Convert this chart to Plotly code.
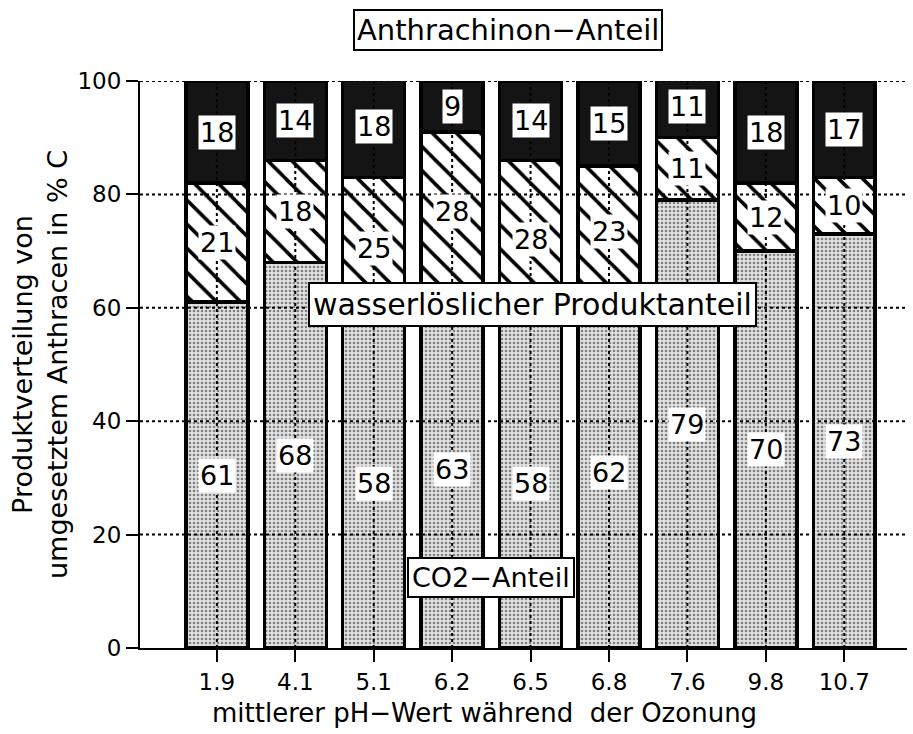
import plotly.graph_objects as go

# pH values (categories) and product shares in % C
ph_labels = ["1.9", "4.1", "5.1", "6.2", "6.5", "6.8", "7.6", "9.8", "10.7"]
co2_share = [61, 68, 58, 63, 58, 62, 79, 70, 73]
water_share = [21, 18, 25, 28, 28, 23, 11, 12, 10]
anthra_share = [18, 14, 18, 9, 14, 15, 11, 18, 17]
y_ticks = [0, 20, 40, 60, 80, 100]

FONT = "DejaVu Sans"
idx = list(range(len(ph_labels)))
BAR_W = 0.79
OUTLINE = dict(color="black", width=3.5)

fig = go.Figure()

fig.add_trace(go.Bar(
    x=idx, y=co2_share, width=BAR_W, name="CO2-Anteil",
    marker=dict(color="#dcdcdc", line=OUTLINE,
                pattern=dict(shape=".", bgcolor="#e2e2e2", fgcolor="#808080",
                             fgopacity=1, size=4, solidity=0.35)),
))
fig.add_trace(go.Bar(
    x=idx, y=water_share, width=BAR_W, name="wasserlöslicher Produktanteil",
    marker=dict(color="white", line=OUTLINE,
                pattern=dict(shape="\\", bgcolor="white", fgcolor="black",
                             fgopacity=1, size=17, solidity=0.21)),
))
fig.add_trace(go.Bar(
    x=idx, y=anthra_share, width=BAR_W, name="Anthrachinon-Anteil",
    marker=dict(color="#141414", line=OUTLINE),
))

# dotted grid drawn over the bars
for t in y_ticks[1:]:
    fig.add_shape(type="line", xref="paper", yref="y", x0=0, x1=1, y0=t, y1=t,
                  line=dict(color="black", width=2, dash="dot"), layer="above")
for i in idx:
    fig.add_shape(type="line", xref="x", yref="y", x0=i, x1=i,
                  y0=y_ticks[0], y1=y_ticks[-1],
                  line=dict(color="black", width=2, dash="dot"), layer="above")

# value labels centred in each segment
label_font = dict(family=FONT, size=27, color="black")
for i in idx:
    c, w, a = co2_share[i], water_share[i], anthra_share[i]
    for val, ymid in ((c, c / 2), (w, c + w / 2), (a, c + w + a / 2)):
        fig.add_annotation(x=i, y=ymid, xref="x", yref="y", text=str(val),
                           showarrow=False, font=label_font, bgcolor="white",
                           borderpad=1)

box_font = dict(family=FONT, size=29, color="black")
fig.add_annotation(x=4.02, y=60.6, xref="x", yref="y",
                   text="wasserlöslicher Produktanteil", showarrow=False,
                   font=dict(family=FONT, size=30, color="black"),
                   bgcolor="white", bordercolor="black",
                   borderwidth=2, borderpad=3)
fig.add_annotation(x=3.5, y=12.4, xref="x", yref="y", text="CO2−Anteil",
                   showarrow=False, font=dict(family=FONT, size=27, color="black"),
                   bgcolor="white", bordercolor="black", borderwidth=2,
                   borderpad=3)
fig.add_annotation(x=0.48, y=1.09, xref="paper", yref="paper",
                   yanchor="middle", xanchor="center",
                   text="Anthrachinon−Anteil", showarrow=False, font=box_font,
                   bgcolor="white", bordercolor="black", borderwidth=2,
                   borderpad=2)

# x-axis title, set slightly left of the plot centre
fig.add_annotation(x=0.449, y=-0.115, xref="paper", yref="paper",
                   xanchor="center", yanchor="middle",
                   text="mittlerer pH−Wert während  der Ozonung",
                   showarrow=False, font=dict(family=FONT, size=26, color="black"))

fig.update_layout(
    barmode="stack",
    width=913, height=734,
    margin=dict(l=140, r=6, t=81, b=86),
    paper_bgcolor="white", plot_bgcolor="white",
    showlegend=False,
    font=dict(family=FONT, color="black"),
    xaxis=dict(
        range=[-0.98, 8.8], tickmode="array", tickvals=idx, ticktext=ph_labels,
        showgrid=False, zeroline=False, showline=True, linecolor="black",
        linewidth=2, ticks="outside", ticklen=12, tickwidth=2,
        tickcolor="black", tickfont=dict(family=FONT, size=23),
    ),
    yaxis=dict(
        range=[0, 100], tickvals=y_ticks, showgrid=False, zeroline=False,
        showline=True, linecolor="black", linewidth=2, ticks="outside",
        ticklen=12, tickwidth=2, tickcolor="black",
        tickfont=dict(family=FONT, size=23),
        title=dict(text="Produktverteilung von<br>umgesetztem Anthracen in % C",
                   font=dict(family=FONT, size=27), standoff=2),
    ),
)

fig.write_html("out.html")
